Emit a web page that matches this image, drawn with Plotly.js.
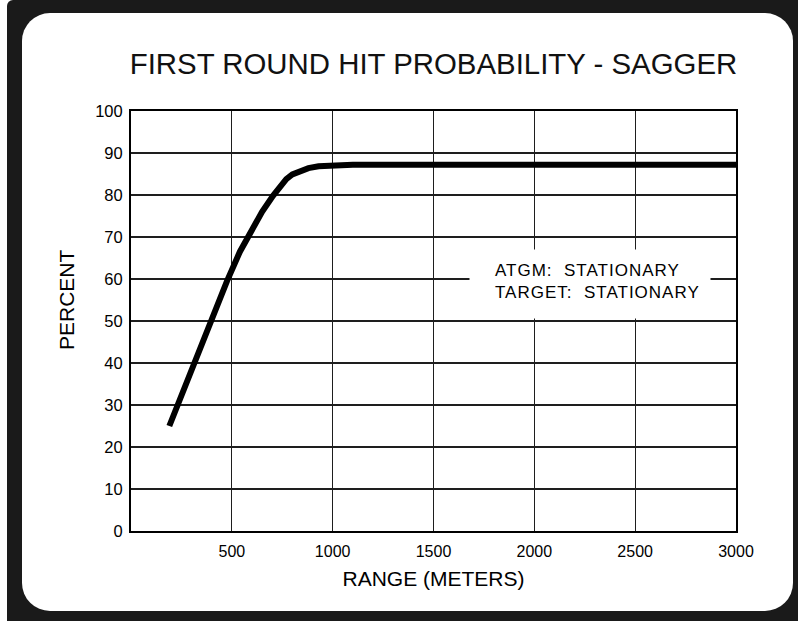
<!DOCTYPE html>
<html>
<head>
<meta charset="utf-8">
<script src="https://cdn.plot.ly/plotly-3.0.1.min.js"></script>
<style>
  html, body { margin: 0; padding: 0; background: #ffffff; width: 798px; height: 621px; overflow: hidden; }
  #frame { position: absolute; left: 7px; top: 0; width: 791px; height: 621px; background: #1a1a1a; border-top-left-radius: 6px; }
  #inner { position: absolute; left: 22px; top: 13px; width: 771px; height: 598px; background: #ffffff; border-radius: 28px; }
  #chart { position: absolute; left: 0; top: 0; width: 798px; height: 621px; }
  #chart .annotation[data-index="1"] text { letter-spacing: 1px; }
</style>
</head>
<body>
<div id="frame"></div>
<div id="inner"></div>
<div id="chart"></div>
<script>
// Data
const rangeMeters = [190, 300, 400, 476, 540, 600, 650, 704, 740, 770, 800, 840, 880, 930, 1000, 1100, 1500, 2000, 2500, 3000];
const hitPercent  = [25, 38.5, 50.5, 59.5, 66.5, 72, 76, 79.8, 82.2, 83.8, 84.9, 85.8, 86.4, 86.85, 87.1, 87.2, 87.2, 87.2, 87.2, 87.2];

const xTickVals = [500, 1000, 1500, 2000, 2500, 3000];
const xTickText = ['500', '1000', '1500', '2000', '2500', '3000'];
const yTickVals = [0, 10, 20, 30, 40, 50, 60, 70, 80, 90, 100];

const chartTitle = 'FIRST ROUND HIT PROBABILITY - SAGGER';
const xTitle = 'RANGE (METERS)';
const yTitle = 'PERCENT';
const noteLines = ['ATGM:  STATIONARY', 'TARGET:  STATIONARY'];

const font = 'Liberation Sans, Arial, Helvetica, sans-serif';

const trace = {
  x: rangeMeters,
  y: hitPercent,
  type: 'scatter',
  mode: 'lines',
  line: { color: '#000000', width: 6, shape: 'linear' },
  hoverinfo: 'skip'
};

const layout = {
  width: 798,
  height: 621,
  margin: { l: 131, r: 62, t: 111, b: 90 },
  paper_bgcolor: 'rgba(0,0,0,0)',
  plot_bgcolor: '#ffffff',
  showlegend: false,
  font: { family: font, color: '#000000' },
  title: {
    text: chartTitle,
    font: { family: font, size: 29.4, color: '#111111' },
    x: 0.5, xref: 'paper', xanchor: 'center',
    y: 1 - 64 / 621, yref: 'container', yanchor: 'middle'
  },
  xaxis: {
    range: [0, 3000],
    tickvals: xTickVals,
    ticktext: xTickText,
    showgrid: true,
    gridcolor: '#1e1e1e',
    gridwidth: 1.3,
    zeroline: false,
    showline: true,
    mirror: true,
    linecolor: '#000000',
    linewidth: 2,
    ticks: '',
    ticklabelstandoff: 5,
    tickfont: { family: font, size: 16, color: '#000000' },
    title: { text: xTitle, font: { family: font, size: 21, color: '#000000' }, standoff: 12 },
    fixedrange: true
  },
  yaxis: {
    range: [0, 100],
    tickvals: yTickVals,
    showgrid: true,
    gridcolor: '#1e1e1e',
    gridwidth: 1.3,
    zeroline: false,
    showline: true,
    mirror: true,
    linecolor: '#000000',
    linewidth: 2,
    ticks: '',
    ticklabelstandoff: 3,
    tickfont: { family: font, size: 16.5, color: '#000000' },
    fixedrange: true
  },
  annotations: [
    {
      xref: 'paper', yref: 'paper',
      x: (590 - 131) / 605, y: (531 - 284) / 420,
      xanchor: 'center', yanchor: 'middle',
      text: ' ', showarrow: false,
      width: 240, height: 68,
      bgcolor: '#ffffff', borderpad: 0
    },
    {
      xref: 'paper', yref: 'paper',
      x: (493 - 131) / 605, y: (531 - 281) / 420,
      xanchor: 'left', yanchor: 'middle',
      align: 'left',
      text: noteLines.join('<br>'),
      showarrow: false,
      font: { family: font, size: 17, color: '#000000' }
    },
    {
      xref: 'paper', yref: 'paper',
      x: (66 - 131) / 605, y: (531 - 300) / 420,
      xanchor: 'center', yanchor: 'middle',
      text: yTitle, textangle: -90, showarrow: false,
      font: { family: font, size: 21, color: '#000000' }
    }
  ]
};

Plotly.newPlot('chart', [trace], layout, { displayModeBar: false, staticPlot: true });
</script>
</body>
</html>
